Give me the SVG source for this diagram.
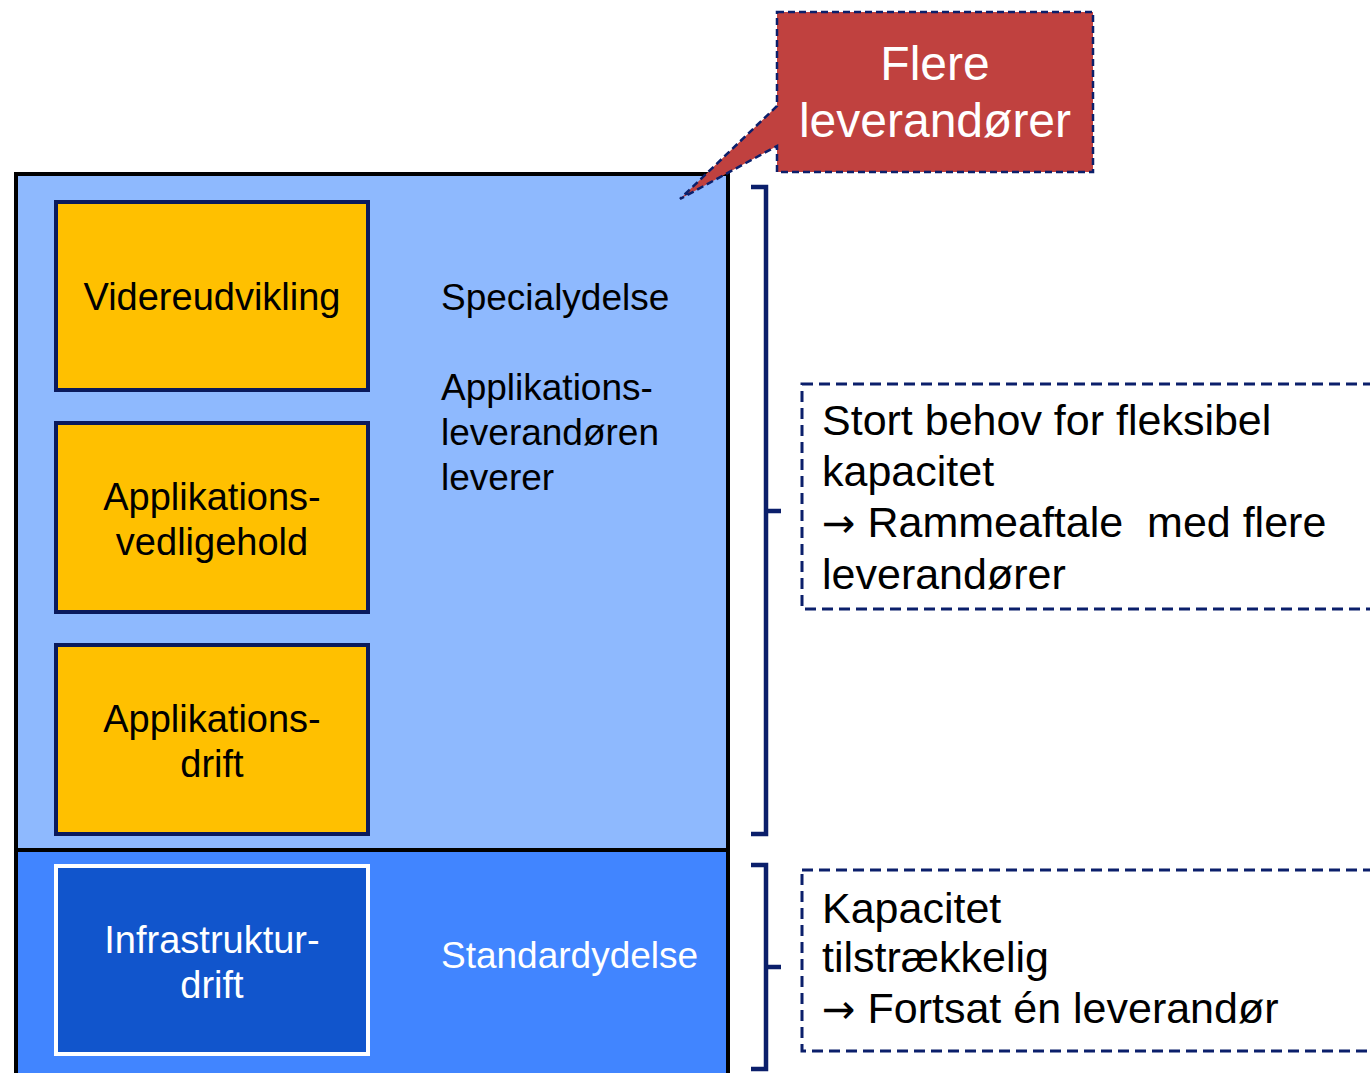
<svg xmlns="http://www.w3.org/2000/svg" width="1370" height="1073" viewBox="0 0 1370 1073">
<style>
text{font-family:"Liberation Sans",Arial,sans-serif;}
.box{fill:#FFC000;stroke:#0A1A5C;stroke-width:4;}
.bt{font-size:38px;fill:#000;text-anchor:middle;}
.lt{font-size:37px;fill:#000;}
.rt{font-size:43px;fill:#000;}
.ar{font-family:"DejaVu Sans",sans-serif;font-size:40px;}
.dash{fill:none;stroke:#0B1F6B;stroke-width:3;stroke-dasharray:11,6;}
.brk{fill:none;stroke:#0B1F6B;stroke-width:4.5;stroke-linejoin:miter;}
</style>
<rect width="1370" height="1073" fill="#fff"/>
<g id="upper-zone">
<rect x="16" y="174" width="712" height="676" fill="#8EB9FE" stroke="#000" stroke-width="4"/>
<text class="lt" x="441" y="310">Specialydelse</text>
<text class="lt" x="441" y="400">Applikations-</text>
<text class="lt" x="441" y="445">leverandøren</text>
<text class="lt" x="441" y="490">leverer</text>
</g>
<g id="lower-zone">
<rect x="16" y="850" width="712" height="230" fill="#4185FF" stroke="#000" stroke-width="4"/>
<text class="lt" x="441" y="968" style="fill:#fff">Standardydelse</text>
</g>
<g id="videreudvikling">
<rect class="box" x="56" y="202" width="312" height="188"/>
<text class="bt" x="212" y="310">Videreudvikling</text>
</g>
<g id="applikationsvedligehold">
<rect class="box" x="56" y="423" width="312" height="189"/>
<text class="bt" x="212" y="510">Applikations-</text>
<text class="bt" x="212" y="555">vedligehold</text>
</g>
<g id="applikationsdrift">
<rect class="box" x="56" y="645" width="312" height="189"/>
<text class="bt" x="212" y="732">Applikations-</text>
<text class="bt" x="212" y="777">drift</text>
</g>
<g id="infrastrukturdrift">
<rect x="56" y="866" width="312" height="188" fill="#1155CC" stroke="#fff" stroke-width="4"/>
<text class="bt" x="212" y="953" style="fill:#fff">Infrastruktur-</text>
<text class="bt" x="212" y="998" style="fill:#fff">drift</text>
</g>
<g id="callout">
<path d="M777,12 H1093 V172 H777 V146 L680,199 L777,106 Z" fill="#C0413F" stroke="#0B1F6B" stroke-width="2.5" stroke-dasharray="7,4"/>
<text x="935" y="80" font-size="48" fill="#fff" text-anchor="middle">Flere</text>
<text x="935" y="137" font-size="48" fill="#fff" text-anchor="middle">leverandører</text>
</g>
<g id="connectors">
<path class="brk" d="M751,187 H766 V834 H751 M766,511 H781"/>
<path class="brk" d="M751,865 H766 V1069 H751 M766,967 H781"/>
</g>
<g id="note-upper">
<rect class="dash" x="802" y="384" width="600" height="225"/>
<text class="rt" x="822" y="435">Stort behov for fleksibel</text>
<text class="rt" x="822" y="486">kapacitet</text>
<text class="rt" x="822" y="537" xml:space="preserve"><tspan class="ar">→</tspan> Rammeaftale  med flere</text>
<text class="rt" x="822" y="589">leverandører</text>
</g>
<g id="note-lower">
<rect class="dash" x="802" y="870" width="600" height="181"/>
<text class="rt" x="822" y="923">Kapacitet</text>
<text class="rt" x="822" y="972">tilstrækkelig</text>
<text class="rt" x="822" y="1023"><tspan class="ar">→</tspan> Fortsat én leverandør</text>
</g>
</svg>
